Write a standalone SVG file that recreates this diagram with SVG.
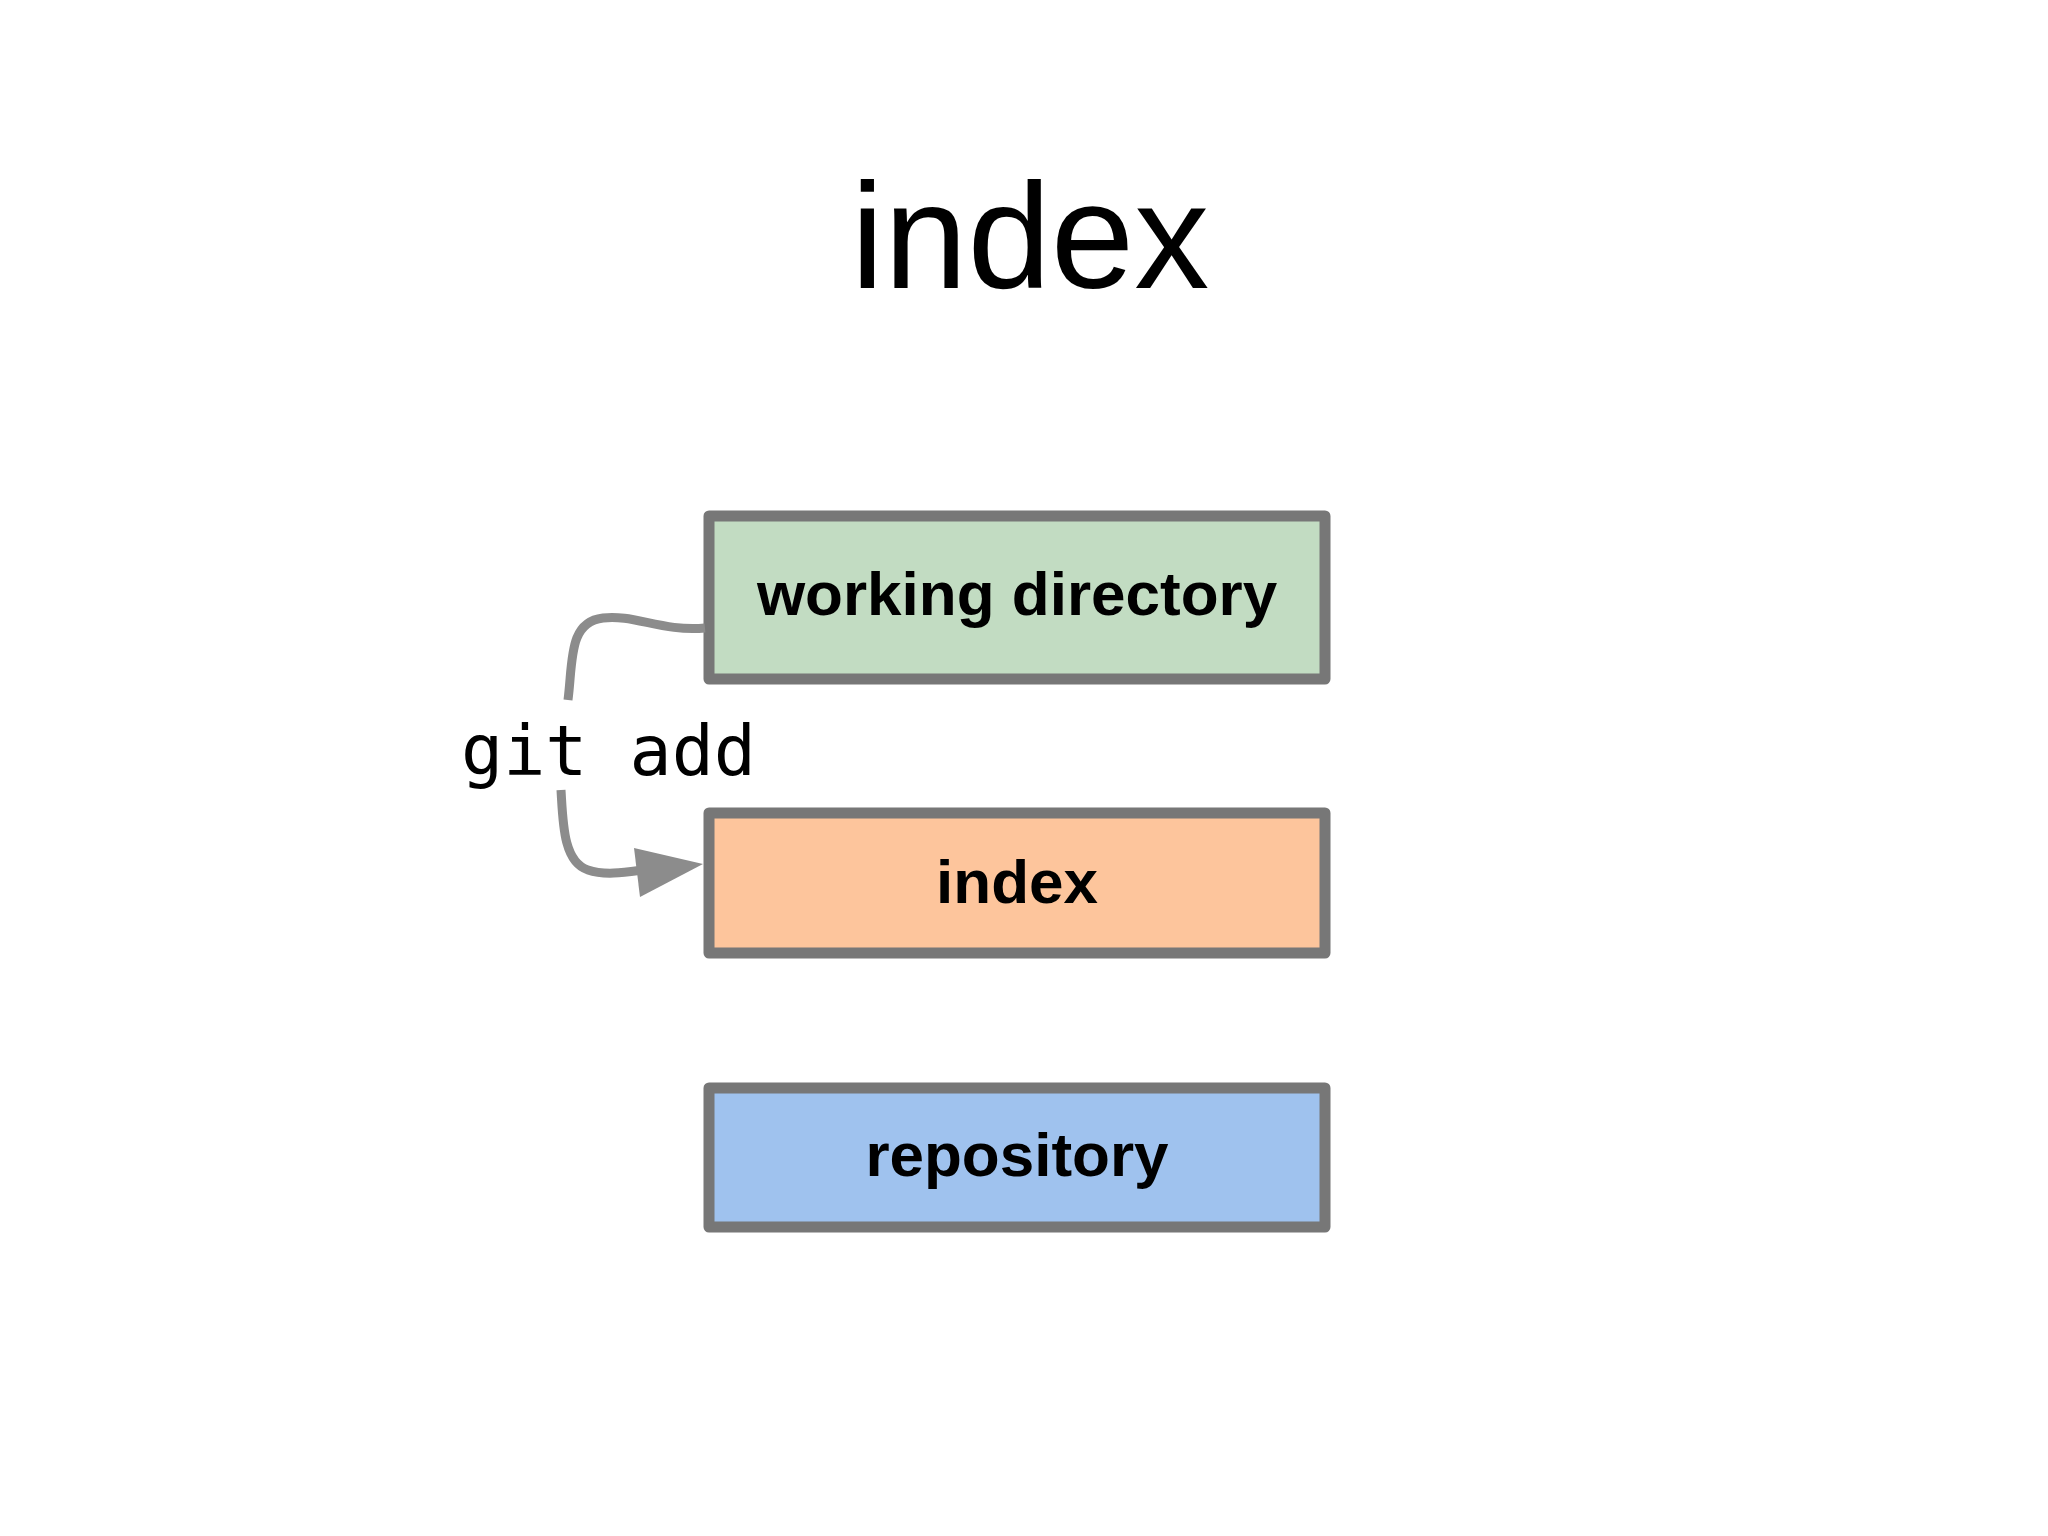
<svg xmlns="http://www.w3.org/2000/svg" width="2048" height="1536" viewBox="0 0 2048 1536">
<style>
.box{stroke:#777;stroke-width:11;stroke-linejoin:round}
.lbl{font-family:"Liberation Sans",Arial,sans-serif;font-weight:bold;font-size:62px;text-anchor:middle;fill:#000}
.conn{fill:none;stroke:#8c8c8c;stroke-width:9}
</style>
<rect width="2048" height="1536" fill="#fff"/>
<text x="1030" y="288" font-family="'Liberation Sans',Arial,sans-serif" font-size="150" text-anchor="middle">index</text>
<g transform="translate(-7,-8)">
<g id="working-directory"><rect class="box" x="716" y="524" width="616" height="163" fill="#c2dcc2"/><text class="lbl" x="1024" y="623">working directory</text></g>
<g id="index"><rect class="box" x="716" y="821" width="616" height="140" fill="#fdc59c"/><text class="lbl" x="1024" y="911">index</text></g>
<g id="repository"><rect class="box" x="716" y="1096" width="616" height="139" fill="#9fc2ee"/><text class="lbl" x="1024" y="1184">repository</text></g>
<g id="connectors">
<path class="conn" d="M712 636 C670 640 640 622 610 626 C575 630 580 670 575 708"/>
<path class="conn" d="M568 798 C570 830 570 870 595 878 C612 884 635 880 650 878"/>
<polygon points="710,872 641,856 647,905" fill="#8c8c8c"/>
<text x="468" y="783" font-family="'DejaVu Sans Mono','Liberation Mono',monospace" font-size="70" fill="#000">git add</text>
</g>
</g>
</svg>
